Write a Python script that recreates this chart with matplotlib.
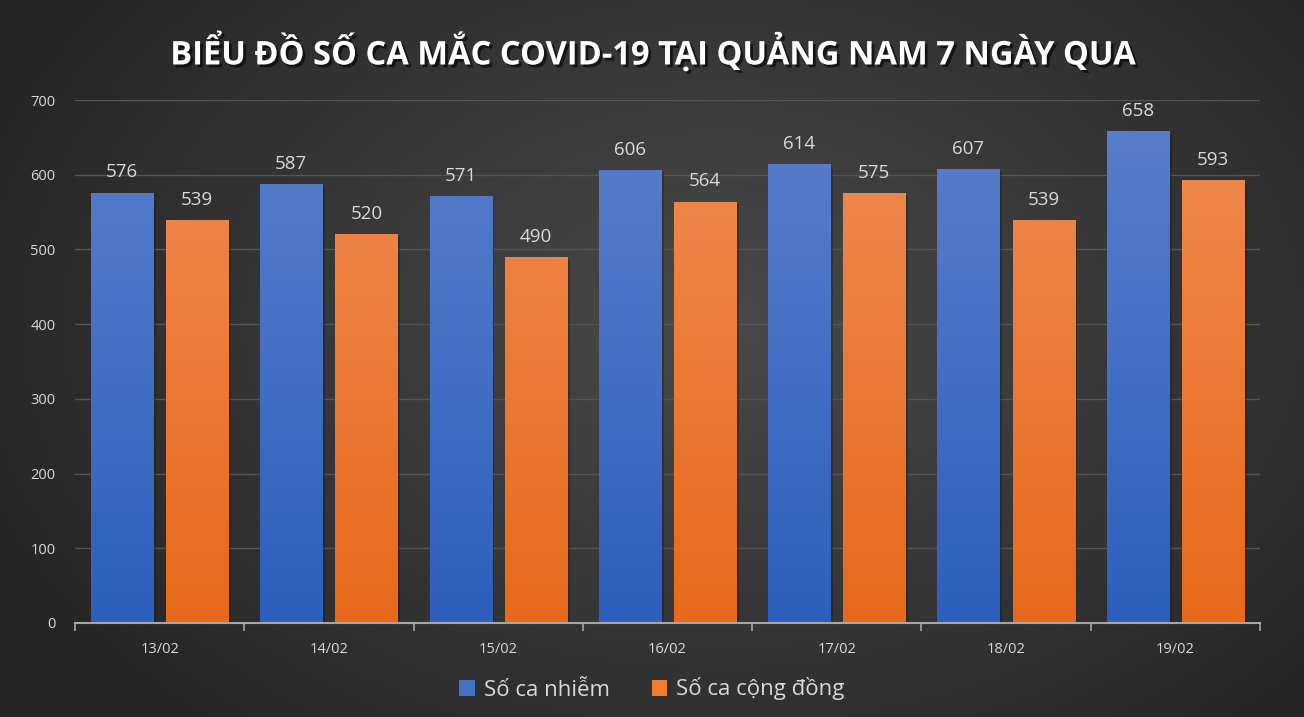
import numpy as np
import matplotlib
matplotlib.use("Agg")
import matplotlib.pyplot as plt
import matplotlib.patheffects as pe
from matplotlib.colors import LinearSegmentedColormap
from matplotlib.patches import Patch

plt.rcParams['font.family'] = ['Open Sans', 'DejaVu Sans']

dates = ["13/02", "14/02", "15/02", "16/02", "17/02", "18/02", "19/02"]
nhiem = [576, 587, 571, 606, 614, 607, 658]
cong_dong = [539, 520, 490, 564, 575, 539, 593]
series_names = ["Số ca nhiễm", "Số ca cộng đồng"]
title = "BIỂU ĐỒ SỐ CA MẮC COVID-19 TẠI QUẢNG NAM 7 NGÀY QUA"

W, H = 1304, 717
fig = plt.figure(figsize=(W / 100, H / 100), dpi=100)

# radial background
bg = fig.add_axes([0, 0, 1, 1])
yy, xx = np.mgrid[0:H, 0:W]
r = np.sqrt(((xx - W * 0.55) / (W * 0.6)) ** 2 + ((yy - H * 0.45) / (H * 0.75)) ** 2)
r = np.clip(r, 0, 1)
c_in = np.array([0x4a, 0x4a, 0x4a]) / 255
c_out = np.array([0x26, 0x26, 0x26]) / 255
img = c_in[None, None, :] * (1 - r[..., None]) + c_out[None, None, :] * r[..., None]
bg.imshow(img, aspect='auto', extent=[0, 1, 0, 1], origin='upper')
bg.set_axis_off()

ax = fig.add_axes([75 / W, 1 - 623 / H, (1260 - 75) / W, (623 - 100) / H])
ax.set_facecolor('none')
x = np.arange(len(dates))
bw = 0.367
off = 0.222

blue_cmap = LinearSegmentedColormap.from_list('b', ['#2d5fbd', '#5b80cc'])
orange_cmap = LinearSegmentedColormap.from_list('o', ['#e8691a', '#f08c54'])

ax.set_xlim(-0.5, len(dates) - 0.5)
ax.set_ylim(0, 700)

grad = np.linspace(0, 1, 256).reshape(-1, 1)
for vals, dx, cmap, name in [(nhiem, -off, blue_cmap, series_names[0]),
                             (cong_dong, off, orange_cmap, series_names[1])]:
    bars = ax.bar(x + dx, vals, width=bw, color=cmap(0.5), label=name, zorder=3,
                  path_effects=[pe.SimplePatchShadow(offset=(2, -2), shadow_rgbFace='#1a1a1a', alpha=0.4), pe.Normal()])
    for b, v in zip(bars, vals):
        x0, w = b.get_x(), b.get_width()
        im = ax.imshow(grad, cmap=cmap, aspect='auto', origin='lower',
                       extent=[x0, x0 + w, 0, 700], zorder=3.5, vmin=0, vmax=1)
        im.set_clip_path(b)
        ax.text(x0 + w / 2, v + 15, str(v), ha='center', va='bottom',
                fontsize=13.5, color='#d9d9d9', zorder=5)

ax.set_xlim(-0.5, len(dates) - 0.5)
ax.set_ylim(0, 700)
ax.set_yticks(range(0, 701, 100))
ax.yaxis.grid(True, color='#555555', linewidth=1, zorder=0)
ax.set_axisbelow(True)
ax.tick_params(axis='y', length=0, colors='#d9d9d9', labelsize=10.5, pad=14)
ax.set_xticks(x)
ax.set_xticklabels(dates)
ax.set_xticks(np.arange(-0.5, len(dates), 1), minor=True)
ax.tick_params(axis='x', which='major', length=0, colors='#d9d9d9', labelsize=10.5, pad=14)
ax.tick_params(axis='x', which='minor', length=6, color='#a6a6a6', width=1.2, direction='out')
for s in ['top', 'right', 'left']:
    ax.spines[s].set_visible(False)
ax.spines['bottom'].set_color('#a6a6a6')
ax.spines['bottom'].set_linewidth(1.5)
ax.spines['bottom'].set_zorder(6)

fig.text(0.5, 1 - 52 / H, title, ha='center', va='center', fontsize=23.5,
         fontweight='bold', color='white',
         path_effects=[pe.withSimplePatchShadow(offset=(2, -2), shadow_rgbFace='black', alpha=0.6)])

handles = [Patch(facecolor='#4672c4', edgecolor='none'), Patch(facecolor='#ed7d31', edgecolor='none')]
leg = fig.legend(handles, series_names, loc='center', bbox_to_anchor=(0.5, 1 - 689 / H),
                 ncol=2, frameon=False, fontsize=16, labelcolor='#d9d9d9',
                 handlelength=0.7, handleheight=0.7, handletextpad=0.4, columnspacing=1.9)

fig.savefig('out.png', dpi=100)
